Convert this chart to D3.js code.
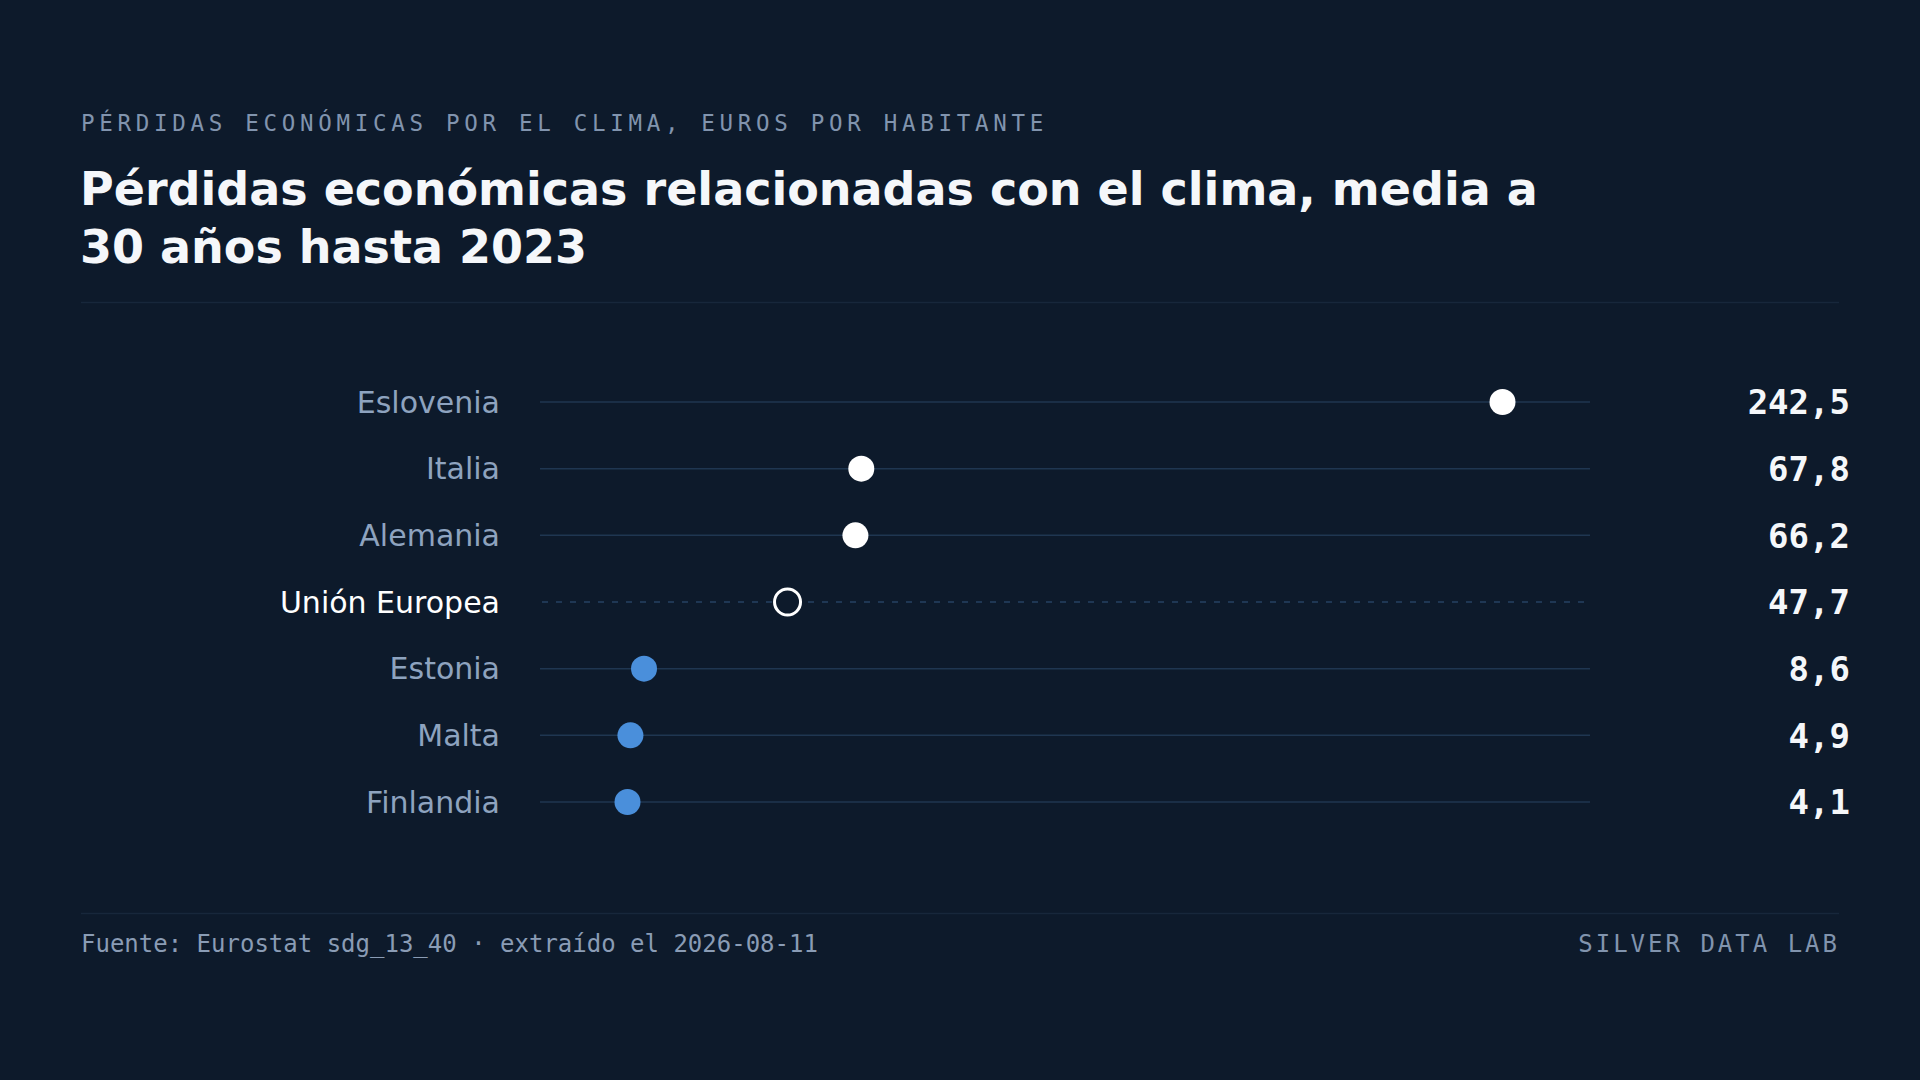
<!DOCTYPE html>
<html>
<head>
<meta charset="utf-8">
<script src="https://cdn.jsdelivr.net/npm/d3@7"></script>
<style>
  html, body { margin: 0; padding: 0; background: #0d1a2b; }
  svg { display: block; }
</style>
</head>
<body>
<svg id="chart" width="1920" height="1080"></svg>
<script>
// data
const countries = ["Eslovenia", "Italia", "Alemania", "Unión Europea", "Estonia", "Malta", "Finlandia"];
const values = [242.5, 67.8, 66.2, 47.7, 8.6, 4.9, 4.1];
const groups = ["alto", "alto", "alto", "ue", "bajo", "bajo", "bajo"];

const subtitle = "PÉRDIDAS ECONÓMICAS POR EL CLIMA, EUROS POR HABITANTE";
const titleLines = ["Pérdidas económicas relacionadas con el clima, media a", "30 años hasta 2023"];
const source = "Fuente: Eurostat sdg_13_40 · extraído el 2026-08-11";
const brand = "SILVER DATA LAB";

const rows = countries.map((c, i) => ({ name: c, value: values[i], group: groups[i] }));

const bg = "#0d1a2b";
const svg = d3.select("#chart");

svg.append("rect").attr("width", 1920).attr("height", 1080).attr("fill", bg);

// header
svg.append("text")
  .attr("x", 81).attr("y", 131)
  .attr("font-family", "DejaVu Sans Mono")
  .attr("font-size", 22.5)
  .attr("letter-spacing", 4.7)
  .attr("fill", "#8194ae")
  .text(subtitle);

svg.append("text")
  .attr("font-family", "DejaVu Sans")
  .attr("font-weight", "bold")
  .attr("font-size", 46)
  .attr("fill", "#f5f7fa")
  .selectAll("tspan")
  .data(titleLines)
  .join("tspan")
    .attr("x", 80)
    .attr("y", (d, i) => 205 + i * 58)
    .text(d => d);

svg.append("line")
  .attr("x1", 81).attr("x2", 1839)
  .attr("y1", 302.5).attr("y2", 302.5)
  .attr("stroke", "#17273b").attr("stroke-width", 1.5);

// scales
const lo = d3.min(values), hi = d3.max(values);
const pad = (hi - lo) * 0.1;
const x = d3.scaleLinear().domain([lo - pad, hi + pad]).range([540, 1590]);
const y = d3.scalePoint().domain(countries).range([402, 802]);

const fmt = d3.formatLocale({ decimal: ",", thousands: ".", grouping: [3], currency: ["", "€"] }).format(".1f");

const row = svg.append("g").selectAll("g")
  .data(rows)
  .join("g")
    .attr("transform", d => `translate(0,${y(d.name)})`);

row.append("line")
  .attr("x1", d => d.group === "ue" ? 542 : x.range()[0])
  .attr("x2", x.range()[1])
  .attr("stroke", d => d.group === "ue" ? "#264263" : "#1f3651")
  .attr("stroke-width", 1.5)
  .attr("stroke-dasharray", d => d.group === "ue" ? "6 8" : null);

row.append("text")
  .attr("x", 500)
  .attr("dy", "0.36em")
  .attr("text-anchor", "end")
  .attr("font-family", "DejaVu Sans")
  .attr("font-size", 30)
  .attr("fill", d => d.group === "ue" ? "#ffffff" : "#8ea3bf")
  .text(d => d.name);

row.append("circle")
  .attr("cx", d => x(d.value))
  .attr("r", 13)
  .attr("fill", d => d.group === "ue" ? bg : d.group === "alto" ? "#ffffff" : "#4a8fdb")
  .attr("stroke", d => d.group === "ue" ? "#ffffff" : "none")
  .attr("stroke-width", 3);

row.append("text")
  .attr("x", 1850)
  .attr("dy", "0.36em")
  .attr("text-anchor", "end")
  .attr("font-family", "DejaVu Sans Mono")
  .attr("font-weight", "bold")
  .attr("font-size", 34)
  .attr("fill", "#f5f7fa")
  .text(d => fmt(d.value));

// footer
svg.append("line")
  .attr("x1", 81).attr("x2", 1839)
  .attr("y1", 913.5).attr("y2", 913.5)
  .attr("stroke", "#17273b").attr("stroke-width", 1.5);

svg.append("text")
  .attr("x", 81).attr("y", 952)
  .attr("font-family", "DejaVu Sans Mono")
  .attr("font-size", 24)
  .attr("fill", "#8a9cb5")
  .text(source);

svg.append("text")
  .attr("x", 1840).attr("y", 952)
  .attr("text-anchor", "end")
  .attr("font-family", "DejaVu Sans Mono")
  .attr("font-size", 24)
  .attr("letter-spacing", 3)
  .attr("fill", "#8194ae")
  .text(brand);
</script>
</body>
</html>
